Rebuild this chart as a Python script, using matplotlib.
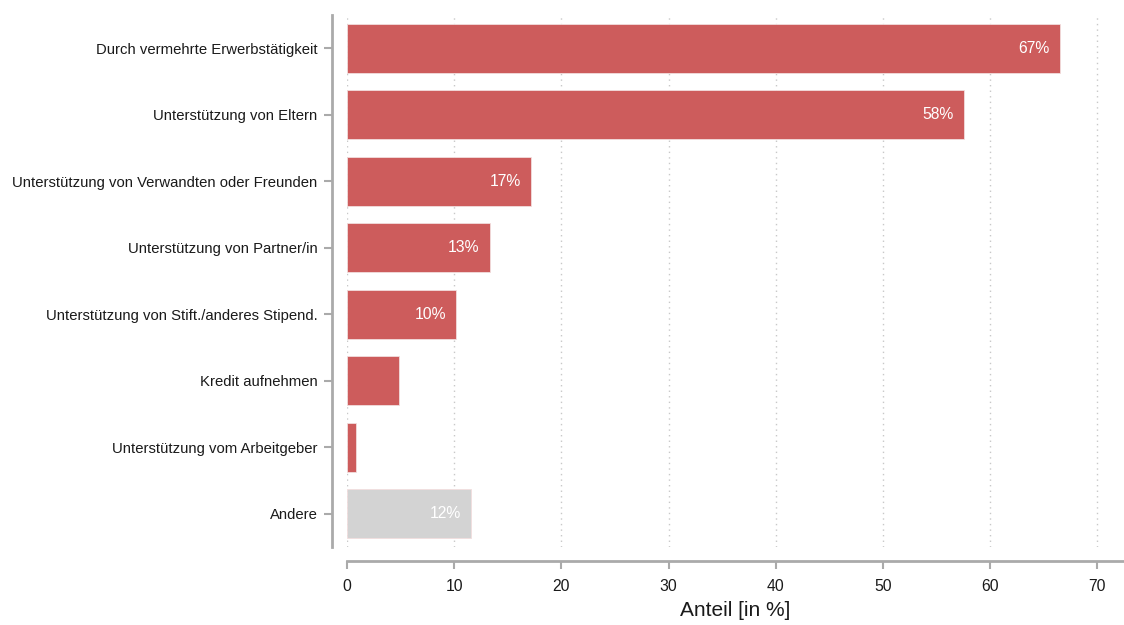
import matplotlib
matplotlib.use("Agg")
import matplotlib.pyplot as plt

# Finanzierungsquellen, top to bottom
categories = [
    "Durch vermehrte Erwerbstätigkeit",
    "Unterstützung von Eltern",
    "Unterstützung von Verwandten oder Freunden",
    "Unterstützung von Partner/in",
    "Unterstützung von Stift./anderes Stipend.",
    "Kredit aufnehmen",
    "Unterstützung vom Arbeitgeber",
    "Andere",
]
shares = [66.5, 57.6, 17.2, 13.3, 10.2, 4.9, 0.85, 11.6]
value_labels = ["67%", "58%", "17%", "13%", "10%", None, None, "12%"]
is_other = [False, False, False, False, False, False, False, True]

plt.rcParams["font.family"] = ["Liberation Sans", "DejaVu Sans"]

fig = plt.figure(figsize=(11.24, 6.25), dpi=100)
ax = fig.add_axes([0.3087, 0.1248, 0.6913, 0.851])

ypos = list(range(len(categories)))
colors = ["#D3D3D3" if o else "#CD5C5C" for o in is_other]
ax.barh(ypos, shares, height=0.74, color=colors, edgecolor="#f2dede", linewidth=0.6, zorder=3)

for y, v, lab in zip(ypos, shares, value_labels):
    if lab is None:
        continue
    ax.annotate(lab, xy=(v, y), xytext=(-7.5, 0), textcoords="offset points",
                ha="right", va="center", color="white", fontsize=11.3, zorder=4)

ax.set_yticks(ypos)
ax.set_yticklabels(categories)
ax.set_ylim(len(categories) - 0.5, -0.5)
ax.set_xlim(0, 72.5)
ax.set_xticks(range(0, 71, 10))
ax.tick_params(axis="x", labelsize=11.3, colors="#aaaaaa", labelcolor="#1a1a1a", length=6, width=1.5, pad=7)
ax.tick_params(axis="y", labelsize=10.7, colors="#aaaaaa", labelcolor="#1a1a1a", length=6, width=1.5, pad=4.3)
ax.set_xlabel("Anteil [in %]", fontsize=15, color="#1a1a1a", labelpad=5)

ax.grid(axis="x", linestyle=(0, (1, 3)), color="#c8c8c8", linewidth=1, zorder=0)

for side in ("top", "right"):
    ax.spines[side].set_visible(False)
for side in ("left", "bottom"):
    ax.spines[side].set_color("#aaaaaa")
    ax.spines[side].set_linewidth(2)
ax.spines["left"].set_position(("outward", 10.8))
ax.spines["bottom"].set_position(("outward", 10))

fig.savefig("out.png", dpi=100)
